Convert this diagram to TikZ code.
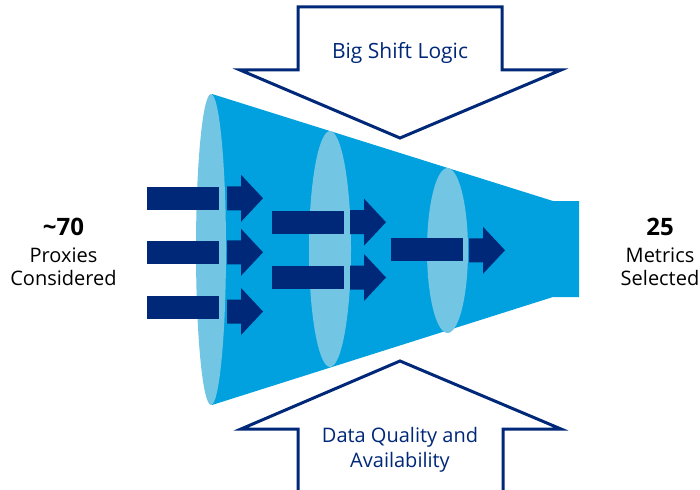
\documentclass[tikz,border=0pt]{standalone}
\usepackage{fontspec}
\setmainfont{Open Sans}
\definecolor{funnelblue}{RGB}{0,161,222}
\definecolor{lightblue}{RGB}{115,197,228}
\definecolor{navy}{RGB}{0,40,120}
\tikzset{
  blockout/.style={draw=navy,line width=3pt,fill=white,line join=miter},
  lbl/.style={anchor=base,inner sep=0pt,font=\fontsize{20}{24}\selectfont},
  numlbl/.style={anchor=base,inner sep=0pt,font=\fontsize{24}{28}\selectfont\bfseries},
  navylbl/.style={anchor=base,inner sep=0pt,text=navy,font=\fontsize{20}{24}\selectfont},
}
\begin{document}
\begin{tikzpicture}[x=1pt,y=-1pt]
\useasboundingbox (0,0) rectangle (700,489);
\clip (0,0) rectangle (700,489);
% funnel body
\fill[funnelblue] (212,94) -- (553,201) -- (579,201) -- (579,297) -- (553,297) -- (212,405) -- cycle;
% rings
\fill[lightblue] (211,249.5) ellipse [x radius=15, y radius=155.5];
\fill[lightblue] (330,249) ellipse [x radius=21, y radius=118];
\fill[lightblue] (447.5,250.5) ellipse [x radius=20.5, y radius=82.5];
% bars
\foreach \xa/\xb/\yc in {147/219/198.5, 147/219/252.5, 147/219/307.5, 272/344/222.3, 272/344/277.3, 391/463/249.5}
  \fill[navy] (\xa,\yc-11.5) rectangle (\xb,\yc+11.5);
% arrows
\foreach \xa/\xs/\xt/\yc in {227/241/263/198.3, 227/241/263/252.3, 227/241/263/311.5, 350/364/386/222.2, 350/364/386/277.5, 469/483/505/250.3}
  \fill[navy] (\xa,\yc-12) -- (\xs,\yc-12) -- (\xs,\yc-23.5) -- (\xt,\yc) -- (\xs,\yc+23.5) -- (\xs,\yc+12) -- (\xa,\yc+12) -- cycle;
% top block arrow
\draw[blockout] (298,7) -- (502,7) -- (502,70) -- (561,70) -- (400,138) -- (240,70) -- (298,70) -- cycle;
% bottom block arrow
\draw[blockout] (298,495) -- (298,429) -- (241,429) -- (400,361) -- (561,429) -- (503,429) -- (503,495);
% texts
\node[navylbl,font=\fontsize{21}{24}\selectfont] (top) at (400,58.3) {Big Shift Logic};
\node[navylbl] (bot1) at (400,442.7) {Data Quality and};
\node[navylbl] (bot2) at (400,467) {Availability};
\node[numlbl] (n70) at (63.5,235) {\textasciitilde70};
\node[lbl] (l1) at (63.5,262.7) {Proxies};
\node[lbl] (l2) at (63.5,285) {Considered};
\node[numlbl] (n25) at (660,235) {25};
\node[lbl] (r1) at (660,262.7) {Metrics};
\node[lbl] (r2) at (660,285) {Selected};
\end{tikzpicture}
\end{document}
